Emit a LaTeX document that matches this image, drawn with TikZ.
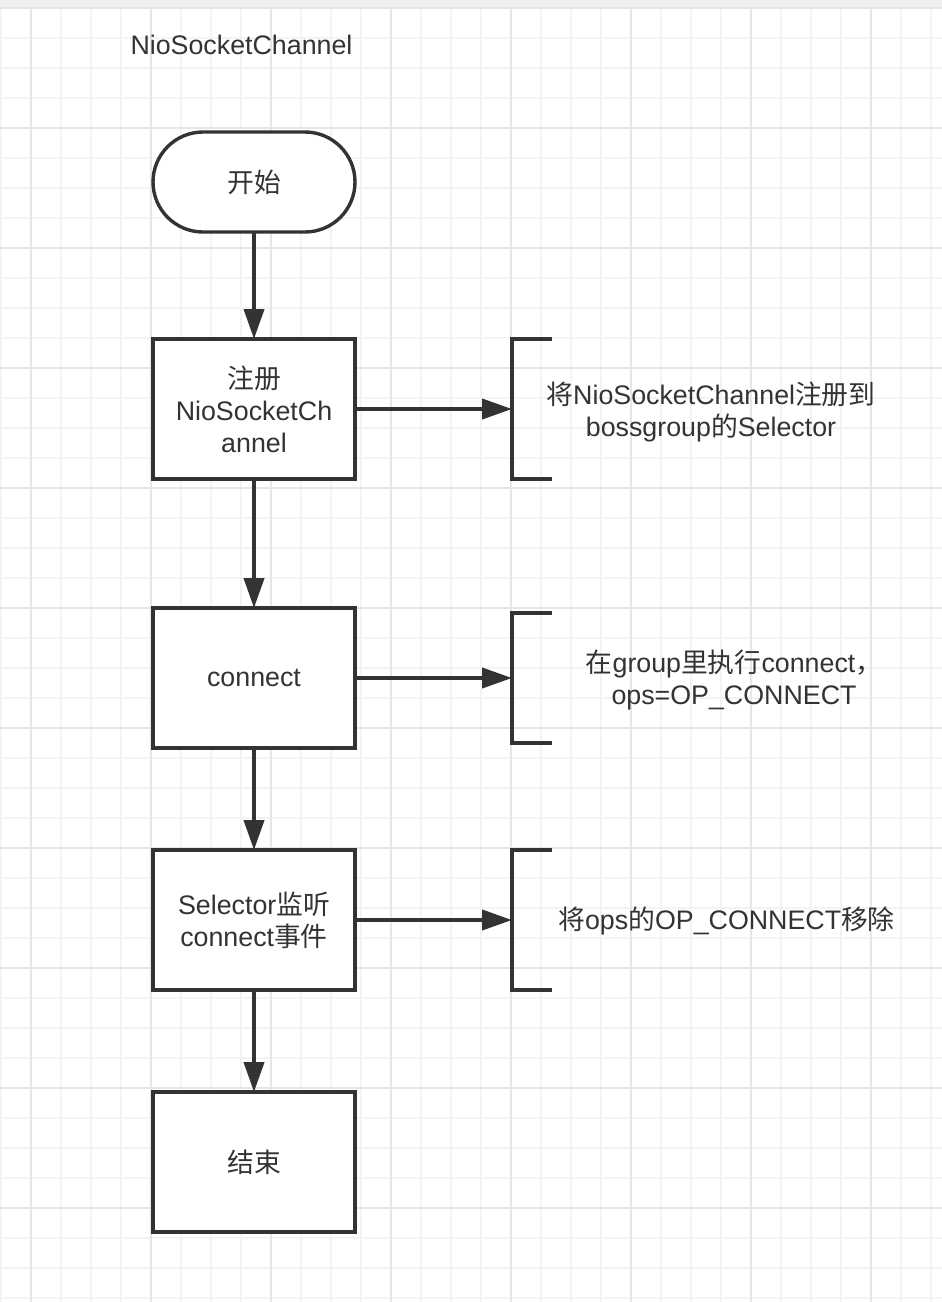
\documentclass[tikz,border=0pt]{standalone}
\usepackage{fontspec}
\setmainfont{Liberation Sans}
\newfontfamily\cjkfont{Noto Sans CJK SC}
\newcommand{\zh}[1]{{\cjkfont #1}}
\usetikzlibrary{arrows.meta, positioning}
\definecolor{ink}{HTML}{333333}
\definecolor{gridminor}{HTML}{F3F3F3}
\definecolor{gridmajor}{HTML}{E6E6E6}
\definecolor{topband}{HTML}{F0F0F0}

\begin{document}
\begin{tikzpicture}[
    x=0.5pt, y=-0.5pt,
    every node/.style={text=ink, font=\fontsize{13.4pt}{16pt}\selectfont},
    box/.style={rectangle,draw=ink,line width=1.7pt,fill=white,align=center,minimum width=101pt,minimum height=70pt,inner sep=0pt,outer sep=0pt},
    terminal/.style={box,rounded corners=25pt,minimum height=50pt},
    bracket/.style={rectangle,minimum width=20pt,minimum height=70pt,inner sep=0pt,outer sep=0pt},
    note/.style={align=center},
    arrow/.style={-{Triangle[length=15pt,width=10pt]}, draw=ink, line width=2pt},
    bracketline/.style={draw=ink, line width=2pt},
    minorline/.style={draw=gridminor, line width=1pt},
    majorline/.style={draw=gridmajor, line width=1pt}
]

\useasboundingbox (0,0) rectangle (942,1302);
\fill[white] (0,0) rectangle (942,1302);
\foreach \gx in {1,31,...,941} \draw[minorline] (\gx,0) -- (\gx,1302);
\foreach \gy in {8,38,...,1300} \draw[minorline] (0,\gy) -- (942,\gy);
\foreach \gx in {31,151,...,941} \draw[majorline] (\gx,0) -- (\gx,1302);
\foreach \gy in {8,128,...,1300} \draw[majorline] (0,\gy) -- (942,\gy);
\fill[topband] (0,0) rectangle (942,7);

\node (title) at (241.5,45) {NioSocketChannel};

\node[terminal] (start) at (254,182) {\zh{开始}};
\node[box, below=53.5pt of start] (register) {\zh{注册}\\NioSocketCh\\annel};
\node[box, below=64.5pt of register] (connect) {connect};
\node[box, below=51pt of connect] (listen) {Selector\zh{监听}\\connect\zh{事件}};
\node[box, below=51pt of listen] (finish) {\zh{结束}};

\node[bracket, right=78.5pt of register] (regBracket) {};
\node[bracket, right=78.5pt of connect, minimum height=65pt] (connBracket) {};
\node[bracket, right=78.5pt of listen] (listenBracket) {};

\node[note] (regNote) at (711,412) {\zh{将}NioSocketChannel\zh{注册到}\\bossgroup\zh{的}Selector};
\node[note] (connNote) at (734,680) {\zh{在}group\zh{里执行}connect\zh{，}\\ops=OP\_CONNECT};
\node[note] (listenNote) at (726.5,921) {\zh{将}ops\zh{的}OP\_CONNECT\zh{移除}};

\draw[bracketline] (regBracket.north east) -- (regBracket.north west) -- (regBracket.south west) -- (regBracket.south east);
\draw[bracketline] (connBracket.north east) -- (connBracket.north west) -- (connBracket.south west) -- (connBracket.south east);
\draw[bracketline] (listenBracket.north east) -- (listenBracket.north west) -- (listenBracket.south west) -- (listenBracket.south east);

\draw[arrow] (start) -- (register);
\draw[arrow] (register) -- (connect);
\draw[arrow] (connect) -- (listen);
\draw[arrow] (listen) -- (finish);

\draw[arrow] (register) -- (regBracket);
\draw[arrow] (connect) -- (connBracket);
\draw[arrow] (listen) -- (listenBracket);

\end{tikzpicture}
\end{document}
